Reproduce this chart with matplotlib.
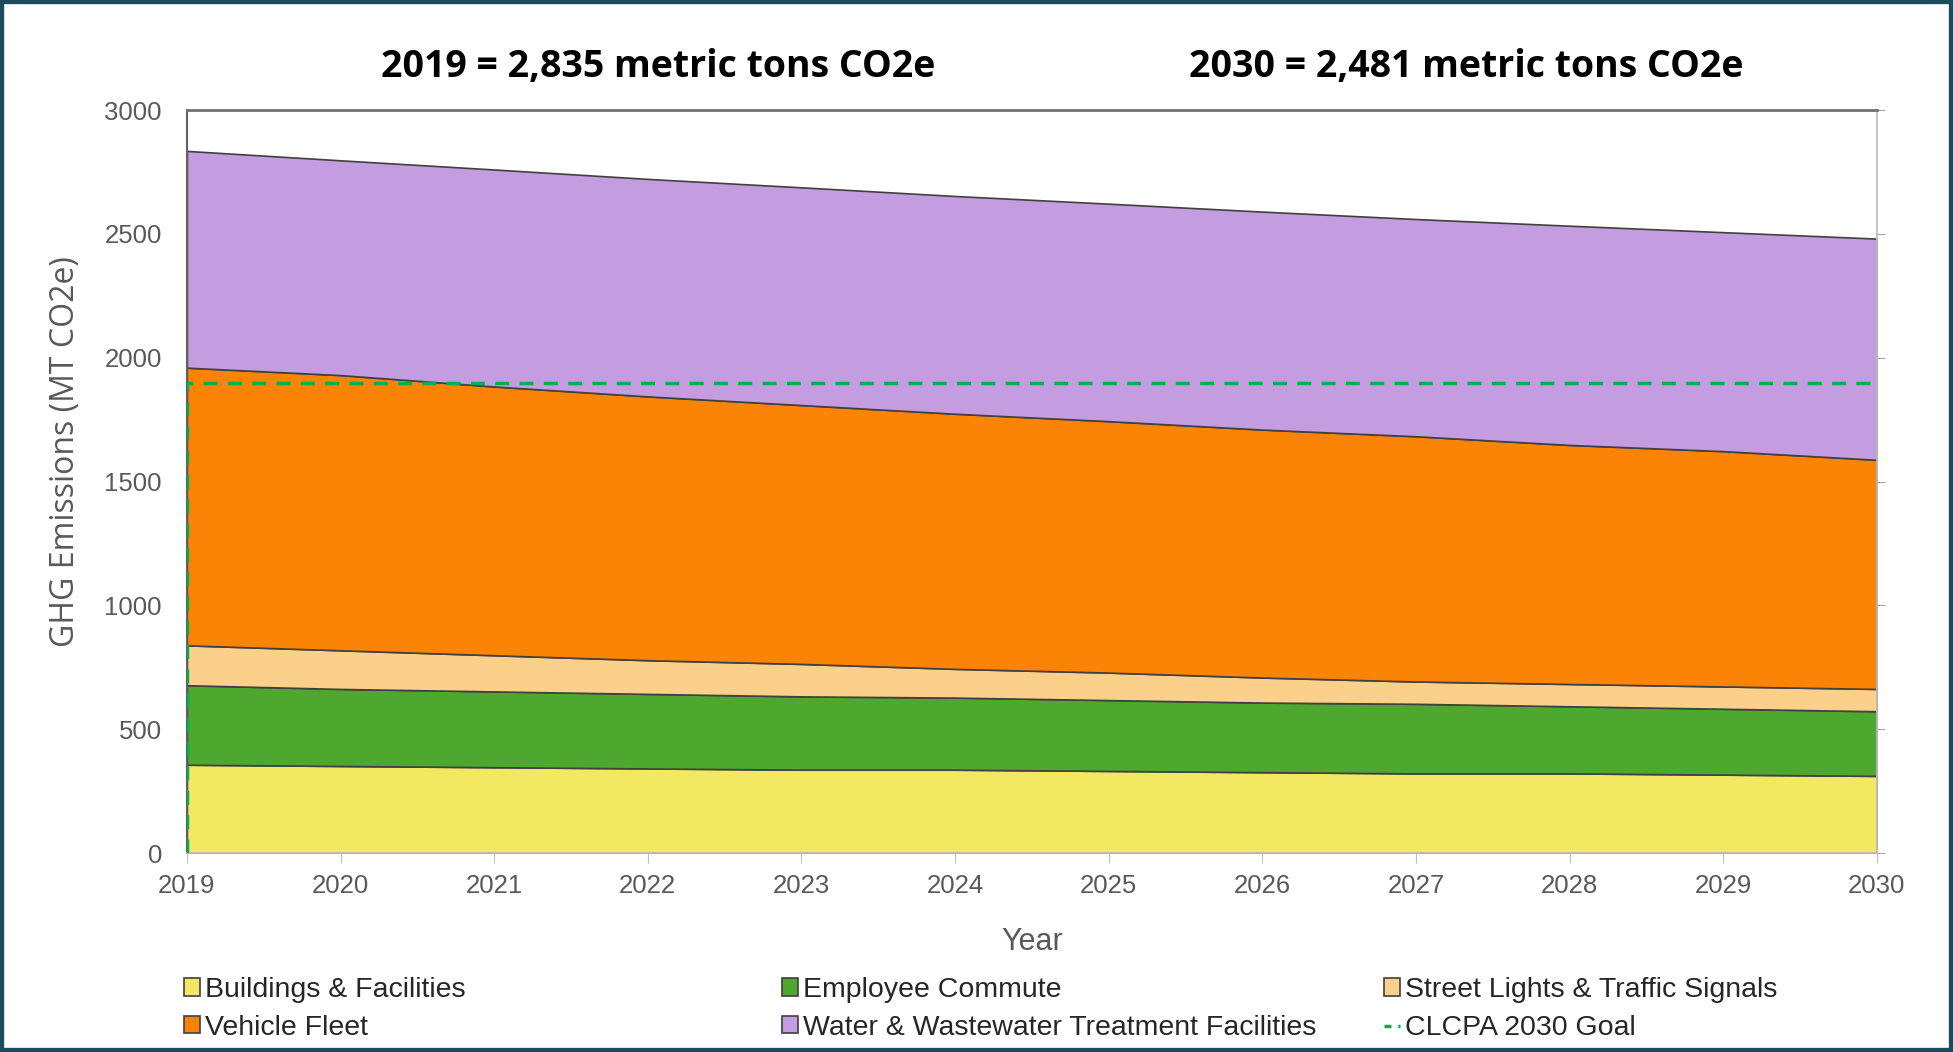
import matplotlib
matplotlib.use("Agg")
import matplotlib.pyplot as plt
from matplotlib.patches import Rectangle, Patch
from matplotlib.lines import Line2D

years = [2019, 2020, 2021, 2022, 2023, 2024, 2025, 2026, 2027, 2028, 2029, 2030]
buildings = [357, 352, 347, 342, 337, 337, 332, 327, 322, 322, 317, 312]
commute = [321, 311, 306, 301, 296, 291, 286, 281, 281, 271, 266, 261]
streetlights = [161, 156, 146, 136, 131, 116, 111, 101, 90, 90, 90, 90]
fleet = [1121, 1111, 1085, 1065, 1045, 1030, 1015, 1001, 990, 965, 950, 925]
water = [875, 867, 876, 878, 879, 879, 878, 880, 877, 885, 884, 893]
goal = 1900

series_names = ["Buildings & Facilities", "Employee Commute", "Street Lights & Traffic Signals",
                "Vehicle Fleet", "Water & Wastewater Treatment Facilities"]
colors = ["#F2E862", "#4EA72E", "#FBD08A", "#FB8305", "#C49CE0"]
goal_name = "CLCPA 2030 Goal"
goal_color = "#00B050"
yticks = [0, 500, 1000, 1500, 2000, 2500, 3000]

fig = plt.figure(figsize=(19.53, 10.52), dpi=100)
ax = fig.add_axes([0.0957, 0.189, 0.8653, 0.7064])

polys = ax.stackplot(years, buildings, commute, streetlights, fleet, water,
                     colors=colors, edgecolor="#404040", linewidth=1.2, labels=series_names)

ax.plot([years[0], years[0], years[-1]], [0, goal, goal], color=goal_color,
        linestyle=(0, (4, 3)), linewidth=2.5, zorder=5)

ax.set_xlim(years[0], years[-1])
ax.set_ylim(0, 3000)
ax.set_xticks(years)
ax.set_yticks(yticks)

tick_font = dict(family="Liberation Sans", size=18.5, color="#595959")
ax.set_xticklabels([str(y) for y in years], **tick_font)
ax.set_yticklabels([str(v) for v in yticks], **tick_font)
ax.tick_params(axis="x", direction="out", length=7, color="#BFBFBF", pad=8)
ax.tick_params(axis="y", left=False, right=True, direction="out", length=6,
               color="#A6A6A6", pad=12)

for s in ["bottom", "right"]:
    ax.spines[s].set_color("#BFBFBF")
    ax.spines[s].set_linewidth(1.3)
ax.spines["top"].set_color("#707070")
ax.spines["top"].set_linewidth(2)
ax.spines["left"].set_color("#606060")
ax.spines["left"].set_linewidth(1.5)

ax.set_xlabel("Year", family="Liberation Sans", size=22, color="#595959", labelpad=21)
ax.set_ylabel("GHG Emissions (MT CO2e)", family="Open Sans", size=23, color="#595959", labelpad=16)
ax.yaxis.set_label_coords(-0.062, 0.541)

title_font = dict(family="Open Sans", weight="bold", size=27, color="black", ha="center", va="center")
fig.text(658 / 1953, 1 - 67 / 1052, "2019 = 2,835 metric tons CO2e", **title_font)
fig.text(1466 / 1953, 1 - 67 / 1052, "2030 = 2,481 metric tons CO2e", **title_font)

# Legend, three columns placed separately
handles = [Patch(facecolor=c, edgecolor="#404040", linewidth=1.2) for c in colors]
goal_handle = Line2D([0], [0], color=goal_color, linestyle=(0, (2, 2)), linewidth=2.5)
cols = [([handles[0], handles[3]], [series_names[0], series_names[3]], 184),
        ([handles[1], handles[4]], [series_names[1], series_names[4]], 782),
        ([handles[2], goal_handle], [series_names[2], goal_name], 1384)]
for h, l, x in cols:
    fig.legend(h, l, loc="upper left", bbox_to_anchor=(x / 1953, 1 - 977 / 1052),
               frameon=False, prop=dict(family="Liberation Sans", size=20.5),
               handlelength=0.55, handleheight=0.55, handletextpad=0.2,
               labelspacing=0.42, borderaxespad=0, borderpad=0, labelcolor="#262626")

fig.patches.append(Rectangle((0, 0), 1, 1, transform=fig.transFigure, fill=False,
                             edgecolor="#1D4B5E", linewidth=6, zorder=10))

fig.savefig("out.png", dpi=100)
